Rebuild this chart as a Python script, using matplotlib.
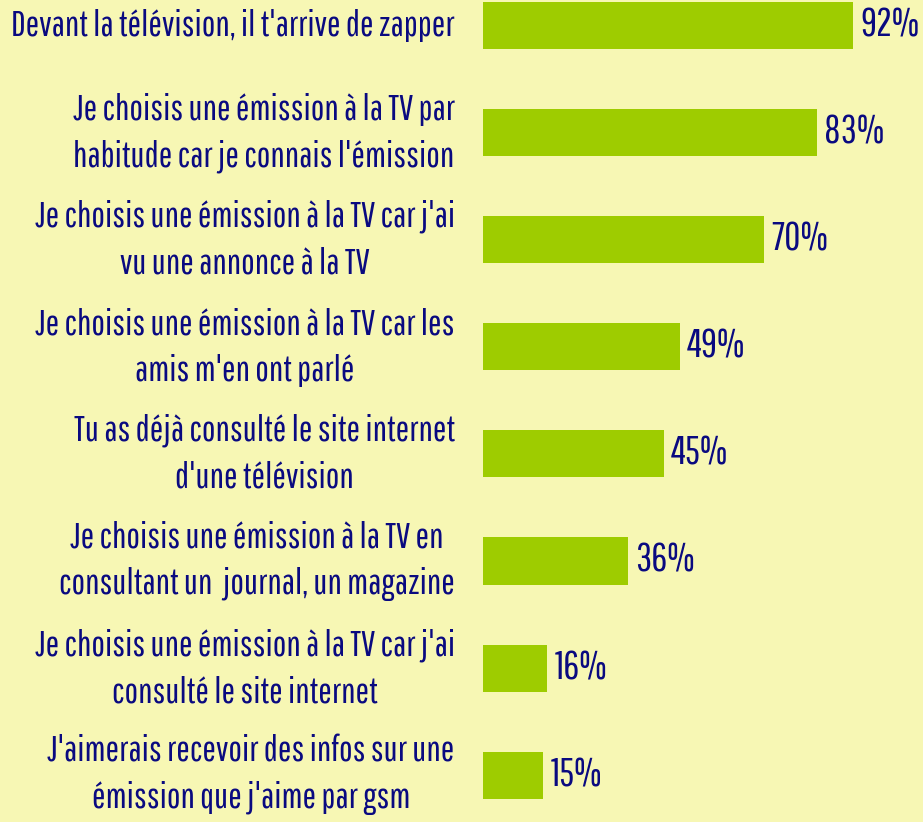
import matplotlib.pyplot as plt
from matplotlib import font_manager

labels = [
    "Devant la télévision, il t'arrive de zapper",
    "Je choisis une émission à la TV par\nhabitude car je connais l'émission",
    "Je choisis une émission à la TV car j'ai\nvu une annonce à la TV",
    "Je choisis une émission à la TV car les\namis m'en ont parlé",
    "Tu as déjà consulté le site internet\nd'une télévision",
    "Je choisis une émission à la TV en\nconsultant un  journal, un magazine",
    "Je choisis une émission à la TV car j'ai\nconsulté le site internet",
    "J'aimerais recevoir des infos sur une\némission que j'aime par gsm",
]
values = [92, 83, 70, 49, 45, 36, 16, 15]

bg = "#F7F7B4"
bar_color = "#9ECC00"
text_color = "#0A0A80"

# condensed font, close to the original one
names = {f.name for f in font_manager.fontManager.ttflist}
font = "DejaVu Sans"
for f in ["Pathway Gothic One", "Barlow Condensed", "Archivo Narrow", "Asap Condensed"]:
    if f in names:
        font = f
        break

fig = plt.figure(figsize=(9.23, 8.22), dpi=100, facecolor=bg)
W, H = 923, 822
ax = fig.add_axes([483 / W, 0, 402 / W, 1])
ax.set_facecolor(bg)

pos = list(range(len(values)))
ax.barh(pos, values, height=0.44, color=bar_color)
ax.set_xlim(0, 100)
ax.set_ylim(7.437, -0.238)
ax.axis("off")

for i, v in zip(pos, values):
    ax.text(v + 1.8, i, f"{v}%", va="center", ha="left", fontsize=28.5,
            color=text_color, family=font)
    ax.text(-7, i, labels[i], va="center", ha="right", multialignment="center",
            fontsize=26, color=text_color, family=font, linespacing=1.5)

fig.savefig("out.png", dpi=100, facecolor=bg)
